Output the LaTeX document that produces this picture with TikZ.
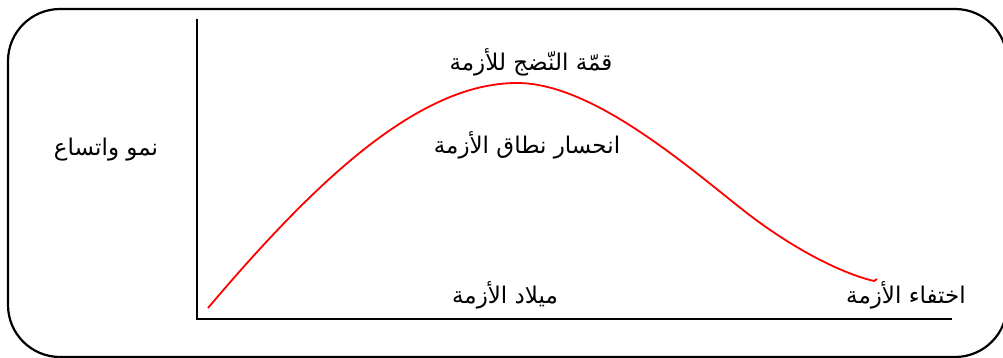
\documentclass[tikz,border=0pt]{standalone}
\usepackage{fontspec}
\newfontfamily\arabicfont[Script=Arabic]{DejaVu Sans}
\TeXXeTstate=1
\begin{document}
\begin{tikzpicture}[x=1pt,y=-1pt,
  lbl/.style={font=\arabicfont\fontsize{23}{27}\selectfont, inner sep=0pt, anchor=center},
  frame/.style={draw=black, line width=2.2pt, rounded corners=52pt},
  axis/.style={draw=black, line width=2.2pt},
  crv/.style={draw=red, line width=1.8pt}]
\useasboundingbox (0,0) rectangle (1003,358);
\draw[frame] (8,9) rectangle (1007,357);
\coordinate (top) at (197,19);
\coordinate (orig) at (197,319);
\coordinate (xend) at (952,319);
\draw[axis] (top) -- (orig) -- (xend);
\coordinate (c0) at (208,308);
\coordinate (c1) at (517,83);
\coordinate (c2) at (743,210);
\coordinate (c3) at (874,281);
\coordinate (c4) at (877,279);
\draw[crv] (c0) .. controls (318,178) and (420,83) .. (c1)
  .. controls (590,83) and (680,160) .. (c2)
  .. controls (790,247) and (840,273) .. (c3) -- (c4);
\node[lbl] (y) at (106,150) {\beginR نمو واتساع\endR};
\node[lbl] (peak) at (531,62) {\beginR قمّة النّضج للأزمة\endR};
\node[lbl] (decl) at (527,145) {\beginR انحسار نطاق الأزمة\endR};
\node[lbl] (birth) at (505,295) {\beginR ميلاد الأزمة\endR};
\node[lbl] (end) at (906,295) {\beginR اختفاء الأزمة\endR};
\end{tikzpicture}
\end{document}
